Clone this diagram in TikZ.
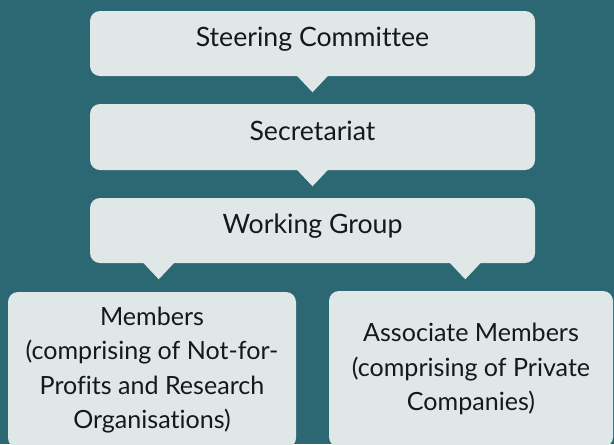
\documentclass[tikz,border=0pt]{standalone}
\usepackage{fontspec}
\usepackage{xcolor}
\setmainfont{Lato}[Ligatures=NoCommon]
\usetikzlibrary{calc}
\definecolor{bgteal}{RGB}{44,103,116}
\definecolor{boxfill}{RGB}{223,231,231}
\definecolor{boxtext}{RGB}{22,24,25}

\begin{document}
\begin{tikzpicture}[
    x=0.75pt, y=-0.75pt,
    orgbox/.style={fill=boxfill, rounded corners=7.5pt, text=boxtext, align=center, inner sep=0pt, font=\fontsize{18.8}{25.6}\selectfont},
    onerow/.style={font=\fontsize{20}{24}\selectfont, text height=0.75em, text depth=0.25em},
    pointer/.style={fill=boxfill}
]

% Background
\fill[bgteal] (0,0) rectangle (614,444);
\useasboundingbox (0,0) rectangle (614,444);

% Top chain
\node[orgbox, onerow, minimum width=333.75pt, minimum height=48.75pt] (steer) at (312.5, 43.5) {Steering Committee};
\node[orgbox, onerow, minimum width=333.75pt, minimum height=49.5pt] (secr) at (312.5, 137) {Secretariat};
\node[orgbox, onerow, minimum width=333.75pt, minimum height=48.75pt] (wgroup) at (312.5, 230.5) {Working Group};

% Member boxes (run off the bottom edge)
\node[orgbox, minimum width=216pt, minimum height=117pt] (members) at (152, 370) {Members\\(comprising of Not-for-\\Profits and Research\\Organisations)};
\node[orgbox, minimum width=213pt, minimum height=117pt] (assoc) at (471, 369) {Associate Members\\(comprising of Private\\Companies)};

% Pointers under the boxes
\fill[pointer] ($(steer.south)+(-16,-1)$) -- ($(steer.south)+(16,-1)$) -- ($(steer.south)+(0,16)$) -- cycle;
\fill[pointer] ($(secr.south)+(-16,-1)$) -- ($(secr.south)+(16,-1)$) -- ($(secr.south)+(0,16)$) -- cycle;
\fill[pointer] ($(wgroup.south west)+(53,-1)$) -- ($(wgroup.south west)+(85,-1)$) -- ($(wgroup.south west)+(69,16)$) -- cycle;
\fill[pointer] ($(wgroup.south east)+(-86,-1)$) -- ($(wgroup.south east)+(-54,-1)$) -- ($(wgroup.south east)+(-70,16)$) -- cycle;

\end{tikzpicture}
\end{document}
